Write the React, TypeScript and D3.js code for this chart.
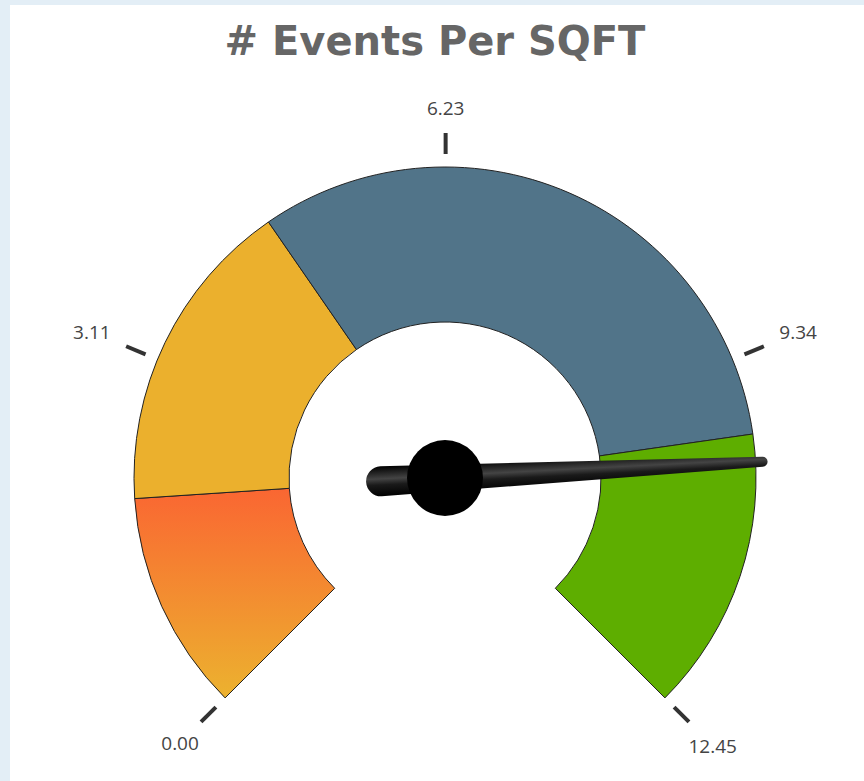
import React from 'react';
import * as d3 from 'd3';

// gauge data
const minValue = 0;
const maxValue = 12.45;
const bandStarts = [0, 1.9, 4.63, 10];
const bandEnds = [1.9, 4.63, 10, 12.45];
const bandColors = ['url(#orangeGrad)', '#ebb02d', '#517489', '#5eae00'];
const tickValues = [0, 3.11, 6.23, 9.34, 12.45];
const tickLabels = ['0.00', '3.11', '6.23', '9.34', '12.45'];
const needleValue = 10.24;
const title = '# Events Per SQFT';

const W = 864;
const H = 781;
const cx = 445;
const cy = 478;
const outerR = 311;
const innerR = 156;

const angle = d3.scaleLinear().domain([minValue, maxValue]).range([-0.75 * Math.PI, 0.75 * Math.PI]);

const polar = (a: number, r: number) => [cx + r * Math.sin(a), cy - r * Math.cos(a)];

const App = () => {
  const arc = d3.arc<any>().innerRadius(innerR).outerRadius(outerR);

  const needleDeg = (angle(needleValue) * 180) / Math.PI - 90;
  // tapered needle, pointing along +x before rotation
  const needlePath = 'M -64 -15 L 318 -5 A 5 5 0 0 1 318 5 L -64 15 A 15 15 0 0 1 -64 -15 Z';

  return (
    <svg width={W} height={H} style={{ position: 'absolute', left: 0, top: 0 }}>
      <defs>
        <linearGradient id="orangeGrad" x1="0" y1="0" x2="0" y2="1">
          <stop offset="0%" stopColor="#fa6632" />
          <stop offset="100%" stopColor="#ecb22f" />
        </linearGradient>
        <linearGradient id="needleGrad" gradientUnits="userSpaceOnUse" x1="0" y1="-15" x2="0" y2="15">
          <stop offset="0%" stopColor="#000" />
          <stop offset="42%" stopColor="#444" />
          <stop offset="62%" stopColor="#1a1a1a" />
          <stop offset="100%" stopColor="#000" />
        </linearGradient>
      </defs>
      <rect x={0} y={0} width={W} height={H} fill="#e3eef6" />
      <rect x={10} y={5} width={W - 10} height={H - 5} fill="#fff" />

      <text x={435} y={55} textAnchor="middle" fontFamily="'DejaVu Sans', sans-serif" fontWeight="bold" fontSize={40} fill="#666">
        {title}
      </text>

      <g transform={`translate(${cx},${cy})`}>
        {bandStarts.map((s, i) => (
          <path
            key={i}
            d={arc({ startAngle: angle(s), endAngle: angle(bandEnds[i]) }) as string}
            fill={bandColors[i]}
            stroke="#222"
            strokeWidth={1}
          />
        ))}
      </g>

      {tickValues.map((v, i) => {
        const a = angle(v);
        const [x1, y1] = polar(a, 324);
        const [x2, y2] = polar(a, 345);
        const label = tickLabels[i];
        const halfW = label.length * 5.6;
        const halfH = Math.cos(a) > 0 ? 14 : 4;
        const r = 356 + halfW * Math.abs(Math.sin(a)) + halfH * Math.abs(Math.cos(a));
        const [lx, ly] = polar(a, r);
        return (
          <g key={i}>
            <line x1={x1} y1={y1} x2={x2} y2={y2} stroke="#333" strokeWidth={4} />
            <text x={lx} y={ly} textAnchor="middle" dominantBaseline="central" fontFamily="'Open Sans', sans-serif" fontSize={19} fill="#444">
              {label}
            </text>
          </g>
        );
      })}

      <g transform={`translate(${cx},${cy}) rotate(${needleDeg})`}>
        <path d={needlePath} fill="url(#needleGrad)" />
      </g>
      <circle cx={cx} cy={cy} r={38} fill="#000" />
    </svg>
  );
};

export default App;
